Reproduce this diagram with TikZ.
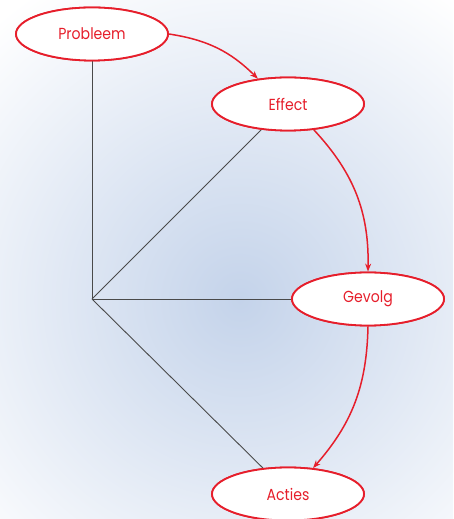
\documentclass[tikz,border=0pt]{standalone}
\usepackage{fontspec}
\newfontfamily\labfont[FakeStretch=0.88]{Poppins}
\usetikzlibrary{shapes.geometric,arrows.meta}
\definecolor{myred}{HTML}{E61E2B}
\definecolor{mygray}{HTML}{4A4A4A}
\definecolor{bgblue}{HTML}{C4D3EA}
\tikzset{
  oval/.style={ellipse, draw=myred, line width=1.8pt, fill=white,
    minimum width=152pt, minimum height=53pt, inner sep=0pt,
    text=myred, font=\labfont\fontsize{16}{19}\selectfont},
  link/.style={draw=mygray, line width=0.9pt},
  flow/.style={draw=myred, line width=1.5pt, -{Stealth[length=8pt,width=6pt]}}
}
\begin{document}
\begin{tikzpicture}[x=1pt,y=1pt]
\useasboundingbox (0,0) rectangle (453,519);
\begin{scope}
\clip (0,0) rectangle (453,519);
\fill[white] (0,0) rectangle (453,519);
\shade[inner color=bgblue, outer color=white] (240,219) circle (370);
\end{scope}
\coordinate (hub) at (92,220);
\node[oval] (p) at (92,485) {Probleem};
\node[oval] (e) at (288,415) {Effect};
\node[oval] (g) at (368,220) {Gevolg};
\node[oval] (a) at (288,25) {Acties};
\path[link] (p.south) -- (hub);
\path[link] (e.224) -- (hub);
\path[link] (hub) -- (g.west);
\path[link] (hub) -- (a.134);
\path[flow] (p.east) to[bend left=18] (e.140);
\path[flow] (e.-45) to[bend left=22] (g.north);
\path[flow] (g.south) to[bend left=20] (a.46);
\node[oval] at (p) {Probleem};
\node[oval] at (e) {Effect};
\node[oval] at (g) {Gevolg};
\node[oval] at (a) {Acties};
\end{tikzpicture}
\end{document}
